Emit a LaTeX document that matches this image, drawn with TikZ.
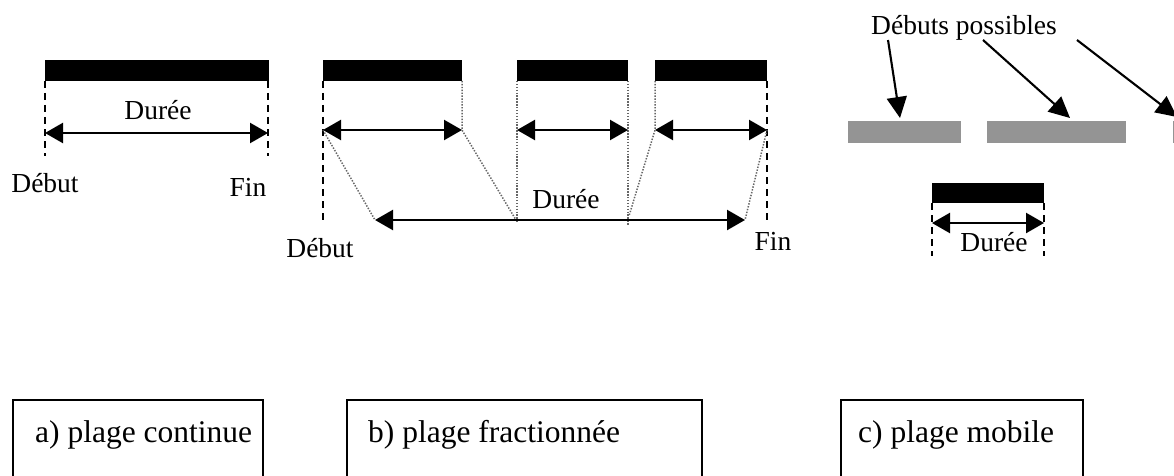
\documentclass[tikz,border=0pt]{standalone}
\usepackage{fontspec}
\setmainfont{Liberation Serif}
\usetikzlibrary{arrows.meta}

\tikzset{
  bar/.style={fill=black},
  slot/.style={fill=black!42},
  guide/.style={line width=2.1pt, dash pattern=on 7pt off 5pt},
  trace/.style={line width=1.5pt, black!60, dash pattern=on 1.4pt off 1.5pt},
  span/.style={line width=2.4pt,
    {Triangle[length=18pt,width=20pt]}-{Triangle[length=18pt,width=20pt]}},
  pointer/.style={line width=2.1pt, -{Triangle[length=21pt,width=20pt]}},
  lbl/.style={font=\fontsize{27.5}{33}\selectfont, inner sep=0pt, anchor=base},
  caption/.style={draw, line width=1.2pt},
  captext/.style={font=\fontsize{31.5}{38}\selectfont, inner sep=0pt, anchor=base west}
}

\begin{document}
\begin{tikzpicture}[x=1pt,y=-1pt]
\useasboundingbox (0,0) rectangle (1174,476);

% ---------- a) plage continue ----------
\fill[bar] (45,60) rectangle (269,81);
\coordinate (aL) at (45,133);
\coordinate (aR) at (268,133);
\draw[guide] (45,81) -- (45,156);
\draw[guide] (268,81) -- (268,156);
\draw[span] (aL) -- (aR);
\node[lbl] (aDuree) at (158,120) {Durée};
\node[lbl] (aDebut) at (45,192) {Début};
\node[lbl] (aFin) at (248,196) {Fin};

% ---------- b) plage fractionnée ----------
\fill[bar] (323,60) rectangle (462,81);
\fill[bar] (517,60) rectangle (628,81);
\fill[bar] (655,60) rectangle (767,81);

\coordinate (b1L) at (323,130); \coordinate (b1R) at (462,130);
\coordinate (b2L) at (517,130); \coordinate (b2R) at (628,130);
\coordinate (b3L) at (655,130); \coordinate (b3R) at (767,130);
\coordinate (bTL) at (375,220); \coordinate (bTR) at (745,220);

\draw[guide] (323,81) -- (323,220);
\draw[guide] (767,81) -- (767,222);

\draw[trace] (462,81) -- (b1R) -- (516,220);
\draw[trace] (517,81) -- (517,222);
\draw[trace] (628,81) -- (628,225);
\draw[trace] (655,81) -- (b3L) -- (629,216);
\draw[trace] (b1L) -- (bTL);
\draw[trace] (b3R) -- (bTR);

\draw[span] (b1L) -- (b1R);
\draw[span] (b2L) -- (b2R);
\draw[span] (b3L) -- (b3R);
\draw[span] (bTL) -- (bTR);

\node[lbl] (bDuree) at (566,208) {Durée};
\node[lbl] (bDebut) at (320,257) {Début};
\node[lbl] (bFin) at (773,250) {Fin};

% ---------- c) plage mobile ----------
\node[lbl] (cDebuts) at (964,35) {Débuts possibles};
\fill[slot] (848,121) rectangle (961,143);
\fill[slot] (987,121) rectangle (1126,143);
\fill[slot] (1173,121) rectangle (1182,143);

\coordinate (p1s) at (888,40);  \coordinate (p1e) at (900,118);
\coordinate (p2s) at (983,40);  \coordinate (p2e) at (1070,118);
\coordinate (p3s) at (1077,40); \coordinate (p3e) at (1177,117);
\draw[pointer] (p1s) -- (p1e);
\draw[pointer] (p2s) -- (p2e);
\draw[pointer] (p3s) -- (p3e);

\fill[bar] (932,183) rectangle (1044,203);
\coordinate (cL) at (932,223);
\coordinate (cR) at (1044,223);
\draw[guide] (932,203) -- (932,256);
\draw[guide] (1044,203) -- (1044,256);
\draw[span] (cL) -- (cR);
\node[lbl] (cDuree) at (994,251) {Durée};

% ---------- captions ----------
\draw[caption] (13,490) -- (13,400) -- (263,400) -- (263,490);
\draw[caption] (347,490) -- (347,400) -- (702,400) -- (702,490);
\draw[caption] (841,490) -- (841,400) -- (1083,400) -- (1083,490);
\node[captext] (capA) at (35,442) {a) plage continue};
\node[captext] (capB) at (368,442) {b) plage fractionnée};
\node[captext] (capC) at (858,442) {c) plage mobile};
\end{tikzpicture}
\end{document}
